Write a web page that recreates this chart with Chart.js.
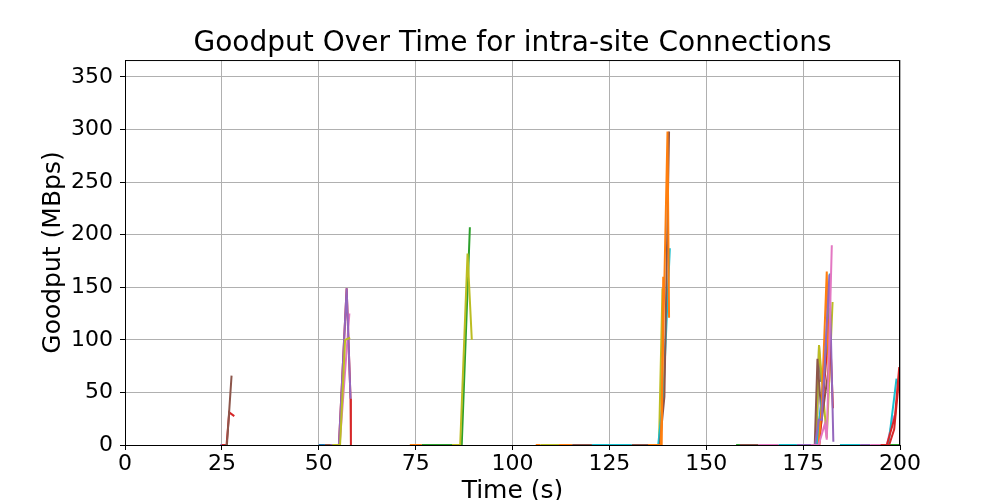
<!DOCTYPE html>
<html>
<head>
<meta charset="utf-8">
<title>Goodput Over Time for intra-site Connections</title>
<script src="https://cdn.jsdelivr.net/npm/chart.js@4.4.1/dist/chart.umd.min.js"></script>
<style>
    html, body { margin: 0; padding: 0; background: #ffffff; }
    #chartWrap { width: 1000px; height: 500px; }
</style>
</head>
<body>
<div id="chartWrap"><canvas id="goodputChart"></canvas></div>
<script>
// Axis ranges and ticks
const xTicks = [0, 25, 50, 75, 100, 125, 150, 175, 200];
const yTicks = [0, 50, 100, 150, 200, 250, 300, 350];
const yMax = 366;

// Connections around 26 s (time in s, goodput in MBps)
const a1Time = [24.6, 26.0];
const a1Goodput = [0, 0];
const a2Time = [25.0, 26.2, 26.9, 28.2];
const a2Goodput = [0, 0, 31, 27.5];
const a3Time = [25.8, 26.3, 27.5];
const a3Goodput = [0, 0, 66];

// Connections around 57 s
const b1Time = [50.0, 51.6];
const b1Goodput = [0, 0];
const b2Time = [51.6, 55.0];
const b2Goodput = [0, 0];
const b5Time = [54.0, 55.2, 57.2, 58.2, 58.3];
const b5Goodput = [0, 0, 149, 44, 0];
const b3Time = [54.5, 55.4, 57.9];
const b3Goodput = [0, 0, 125];
const b4Time = [53.0, 55.2, 57.2, 58.2];
const b4Goodput = [0, 0, 149, 44];
const b6Time = [53.5, 55.5, 56.8, 58.1];
const b6Goodput = [0, 0, 100, 102];

// Connections around 88 s
const c1Time = [73.5, 76.6];
const c1Goodput = [0, 0];
const c2Time = [76.6, 86.9, 89.0];
const c2Goodput = [0, 0, 207];
const c3Time = [84.4, 86.5, 88.4, 89.5];
const c3Goodput = [0, 0, 182, 100];

// Connections around 140 s
const d1Time = [106.0, 107.2];
const d1Goodput = [0, 0];
const d2Time = [107.2, 112.0];
const d2Goodput = [0, 0];
const d3Time = [112.0, 115.4];
const d3Goodput = [0, 0];
const d4Time = [115.4, 120.5];
const d4Goodput = [0, 0];
const d5Time = [120.5, 130.8];
const d5Goodput = [0, 0];
const d6Time = [134.0, 137.8, 138.7];
const d6Goodput = [0, 0, 149];
const d7Time = [133.0, 137.6, 138.9, 140.6];
const d7Goodput = [0, 0, 46, 187];
const d8Time = [130.8, 138.0, 139.2, 140.4];
const d8Goodput = [0, 0, 46, 298];
const d9Time = [135.0, 138.5, 138.9];
const d9Goodput = [0, 0, 160];
const d10Time = [136.0, 138.3, 140.0, 140.4];
const d10Goodput = [0, 0, 298, 121];

// Connections around 181 s
const e1Time = [157.7, 158.7];
const e1Goodput = [0, 0];
const e2Time = [158.7, 163.5];
const e2Goodput = [0, 0];
const e3Time = [163.5, 168.7];
const e3Goodput = [0, 0];
const e4Time = [168.7, 173.4];
const e4Goodput = [0, 0];
const e5Time = [176.0, 178.5, 179.1, 179.6];
const e5Goodput = [0, 0, 95, 60];
const e6Time = [176.5, 178.3, 179.1, 181.1, 182.6];
const e6Goodput = [0, 0, 95, 7, 136];
const e7Time = [175.0, 178.0, 178.7, 179.8, 182.2];
const e7Goodput = [0, 0, 82, 24, 89];
const e8Time = [177.0, 178.6, 181.3, 181.8];
const e8Goodput = [0, 0, 100, 130];
const e9Time = [178.0, 179.2, 181.8, 182.7];
const e9Goodput = [0, 0, 120, 35];
const e10Time = [177.5, 178.5, 180.3, 181.9];
const e10Goodput = [0, 0, 60, 163];
const e11Time = [177.0, 179.0, 179.8, 181.1, 181.6];
const e11Goodput = [0, 0, 38, 165, 60];
const e12Time = [173.4, 178.1, 179.0, 179.8, 181.8, 182.8];
const e12Goodput = [0, 0, 24, 24, 162, 3];
const e13Time = [177.0, 179.0, 180.6, 181.1, 182.4];
const e13Goodput = [0, 0, 20, 5, 190];

// Connections near 200 s
const f1Time = [184.5, 189.7];
const f1Goodput = [0, 0];
const f2Time = [189.7, 192.3];
const f2Goodput = [0, 0];
const f3Time = [192.3, 196.6, 198.4];
const f3Goodput = [0, 0, 28];
const f4Time = [196.0, 200.0];
const f4Goodput = [0, 0];
const f5Time = [196.0, 197.0, 199.1];
const f5Goodput = [0, 0, 63];
const f6Time = [195.0, 196.6, 198.7, 199.8];
const f6Goodput = [0, 0, 27, 74];
const f7Time = [195.5, 197.2, 198.5, 200.2];
const f7Goodput = [0, 0, 15, 80];

// matplotlib default colour cycle
const tab = {
    blue: '#1f77b4', orange: '#ff7f0e', green: '#2ca02c', red: '#d62728',
    purple: '#9467bd', brown: '#8c564b', pink: '#e377c2', gray: '#7f7f7f',
    olive: '#bcbd22', cyan: '#17becf'
};

// Drawing order: later entries end up on top
const series = [
    [a1Time, a1Goodput, tab.purple],
    [a2Time, a2Goodput, tab.red],
    [a3Time, a3Goodput, tab.brown],
    [b1Time, b1Goodput, tab.blue],
    [b2Time, b2Goodput, tab.brown],
    [b5Time, b5Goodput, tab.red],
    [b3Time, b3Goodput, tab.pink],
    [b4Time, b4Goodput, tab.purple],
    [b6Time, b6Goodput, tab.olive],
    [c1Time, c1Goodput, tab.orange],
    [c2Time, c2Goodput, tab.green],
    [c3Time, c3Goodput, tab.olive],
    [d1Time, d1Goodput, tab.orange],
    [d2Time, d2Goodput, tab.olive],
    [d3Time, d3Goodput, tab.orange],
    [d4Time, d4Goodput, tab.brown],
    [d5Time, d5Goodput, tab.cyan],
    [d6Time, d6Goodput, tab.olive],
    [d7Time, d7Goodput, tab.cyan],
    [d8Time, d8Goodput, tab.brown],
    [d9Time, d9Goodput, tab.orange],
    [d10Time, d10Goodput, tab.orange],
    [e1Time, e1Goodput, tab.green],
    [e2Time, e2Goodput, tab.brown],
    [e3Time, e3Goodput, tab.pink],
    [e4Time, e4Goodput, tab.cyan],
    [e5Time, e5Goodput, tab.gray],
    [e6Time, e6Goodput, tab.olive],
    [e7Time, e7Goodput, tab.brown],
    [e8Time, e8Goodput, tab.blue],
    [e9Time, e9Goodput, tab.red],
    [e10Time, e10Goodput, tab.cyan],
    [e11Time, e11Goodput, tab.orange],
    [e12Time, e12Goodput, tab.purple],
    [e13Time, e13Goodput, tab.pink],
    [f1Time, f1Goodput, tab.cyan],
    [f2Time, f2Goodput, tab.purple],
    [f3Time, f3Goodput, tab.pink],
    [f4Time, f4Goodput, tab.green],
    [f5Time, f5Goodput, tab.cyan],
    [f6Time, f6Goodput, tab.red],
    [f7Time, f7Goodput, tab.red]
];

// Black box around the plot area like matplotlib spines
const frameBox = {
    id: 'frameBox',
    afterDatasetsDraw(chart) {
        const area = chart.chartArea;
        const ctx = chart.ctx;
        ctx.save();
        ctx.strokeStyle = '#000000';
        ctx.lineWidth = 1;
        ctx.strokeRect(area.left + 0.5, area.top + 0.5, area.right - area.left - 1, area.bottom - area.top);
        ctx.restore();
    }
};

document.addEventListener('DOMContentLoaded', function() {
    initializeChart();
});

// Initialize chart
function initializeChart() {
    Chart.defaults.font.family = "'DejaVu Sans', sans-serif";
    Chart.defaults.color = '#000000';

    const datasets = series.map((s, i) => ({
        label: 'conn ' + (i + 1),
        data: s[0].map((t, j) => ({ x: t, y: s[1][j] })),
        borderColor: s[2],
        borderWidth: 2,
        pointRadius: 0,
        tension: 0,
        fill: false,
        clip: 0,
        order: series.length - i
    }));

    const ctx = document.getElementById('goodputChart').getContext('2d');
    new Chart(ctx, {
        type: 'line',
        data: { datasets: datasets },
        options: {
            responsive: true,
            maintainAspectRatio: false,
            devicePixelRatio: 1,
            animation: false,
            layout: { padding: { left: 0, right: 100, top: 0, bottom: 0 } },
            plugins: {
                legend: { display: false },
                tooltip: { enabled: false },
                title: {
                    display: true,
                    text: 'Goodput Over Time for intra-site Connections',
                    fullSize: false,
                    color: '#000000',
                    font: { size: 28, weight: 'normal', lineHeight: 1.18 },
                    padding: { top: 27, bottom: 0 }
                }
            },
            scales: {
                x: {
                    type: 'linear',
                    min: xTicks[0],
                    max: xTicks[xTicks.length - 1],
                    afterFit: scale => { scale.height = 55; },
                    afterBuildTicks: scale => { scale.ticks = xTicks.map(v => ({ value: v })); },
                    ticks: {
                        font: { size: 22, lineHeight: 1 },
                        color: '#000000',
                        padding: 3,
                        maxRotation: 0,
                        autoSkip: false
                    },
                    grid: { color: '#b0b0b0', lineWidth: 1, tickLength: 5, tickColor: '#000000' },
                    border: { display: true, color: '#000000', width: 1 },
                    title: {
                        display: true,
                        text: 'Time (s)',
                        font: { size: 25, lineHeight: 1.2 },
                        padding: { top: 0, bottom: -6 }
                    }
                },
                y: {
                    type: 'linear',
                    min: 0,
                    max: yMax,
                    afterFit: scale => { scale.width = 125; },
                    afterBuildTicks: scale => { scale.ticks = yTicks.map(v => ({ value: v })); },
                    ticks: {
                        font: { size: 22, lineHeight: 1 },
                        color: '#000000',
                        padding: 7,
                        autoSkip: false
                    },
                    grid: { color: '#b0b0b0', lineWidth: 1, tickLength: 5, tickColor: '#000000' },
                    border: { display: true, color: '#000000', width: 1 },
                    title: {
                        display: true,
                        text: 'Goodput (MBps)',
                        font: { size: 25, lineHeight: 1.2 },
                        padding: { top: 38, bottom: 0 }
                    }
                }
            }
        },
        plugins: [frameBox]
    });
}
</script>
</body>
</html>
